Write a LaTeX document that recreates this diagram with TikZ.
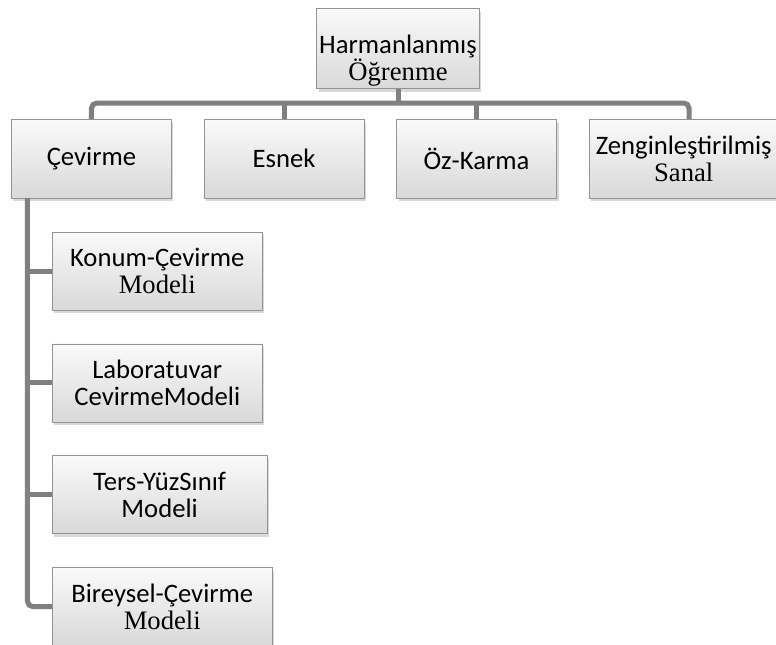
\documentclass[tikz,border=0pt]{standalone}
\usepackage{fontspec}
\setmainfont{Liberation Serif}
\setsansfont{Carlito}
\usetikzlibrary{positioning,shadows}

\begin{document}
\begin{tikzpicture}[
node distance=24pt and 24pt,
box/.style={rectangle, draw=gray!85, top color=gray!4, bottom color=gray!30, align=center, minimum width=120pt, minimum height=59pt, inner sep=2pt, font=\fontsize{20}{20}\selectfont, drop shadow={opacity=.3, shadow xshift=1.5pt, shadow yshift=-2.5pt}},
subbox/.style={box, minimum height=58.5pt},
link/.style={draw=gray, line width=3.75pt, rounded corners=4pt}
]
\useasboundingbox (0,0) rectangle (582pt,-483pt);

\node[box, anchor=north] (harman) at (298.5pt,-6pt) {{\sffamily\rule{0pt}{32pt}Harmanlanmış}\\Öğrenme};

\node[box] (cevirme) at (68.6pt,-118.9pt) {\sffamily Çevirme};
\node[box, right=of cevirme] (esnek) {\sffamily Esnek};
\node[box, right=of esnek] (ozkarma) {\sffamily Öz-Karma};
\node[box, right=of ozkarma, minimum width=142pt] (zengin) {{\sffamily Zenginleştirilmiş}\\Sanal};

\node[subbox, minimum width=157.5pt, anchor=west] (konum) at (39pt,-203.25pt) {{\sffamily Konum-Çevirme}\\Modeli};
\node[subbox, minimum width=157.5pt, below=25pt of konum.south west, anchor=north west] (lab) {{\sffamily Laboratuvar}\\{\sffamily CevirmeModeli}};
\node[subbox, minimum width=161pt, below=25pt of lab.south west, anchor=north west] (ters) {{\sffamily Ters-YüzSınıf\hspace{8pt}}\\{\sffamily Modeli}};
\node[subbox, minimum width=165pt, below=25pt of ters.south west, anchor=north west] (bireysel) {{\sffamily Bireysel-Çevirme}\\Modeli};

\coordinate (bar) at (298.5pt,-77.25pt);
\coordinate (spine) at (20.6pt,0);

\draw[link] (harman.south) -- (harman.south |- bar);
\draw[link] (cevirme.north) |- (bar) -| ([xshift=4pt]zengin.north);
\draw[link] (esnek.north) -- (esnek.north |- bar);
\draw[link] (ozkarma.north) -- (ozkarma.north |- bar);

\draw[link] (spine |- cevirme.south) |- (bireysel.west);
\draw[link] (spine |- konum.west) -- (konum.west);
\draw[link] (spine |- lab.west) -- (lab.west);
\draw[link] (spine |- ters.west) -- (ters.west);

\end{tikzpicture}
\end{document}
